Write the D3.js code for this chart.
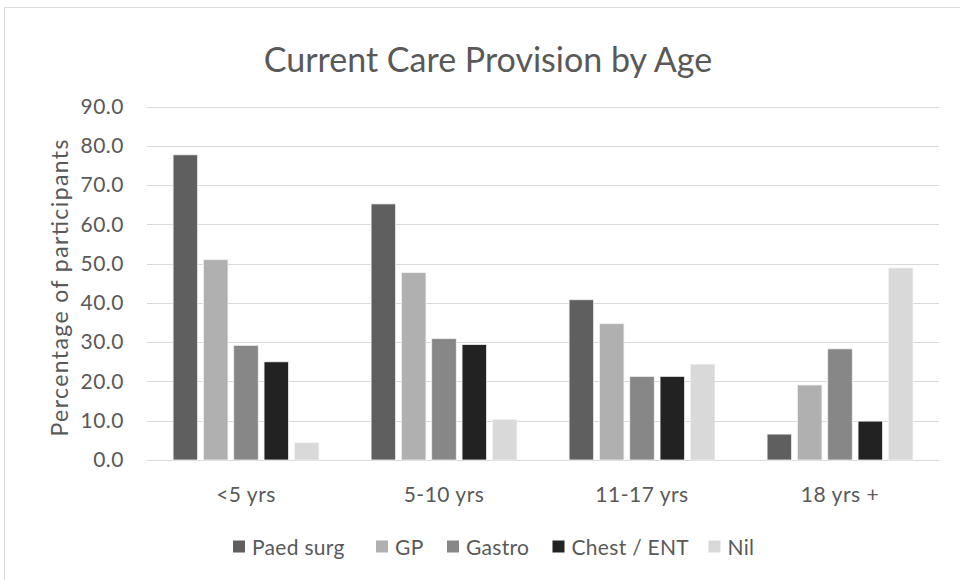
<!DOCTYPE html>
<html>
<head>
<meta charset="utf-8">
<script src="https://cdn.jsdelivr.net/npm/d3@7/dist/d3.min.js"></script>
<style>
  html, body { margin: 0; padding: 0; background: #fff; }
  svg { display: block; }
  text { font-family: Lato, "Open Sans", sans-serif; fill: #595959; }
</style>
</head>
<body>
<svg id="chart" width="960" height="580"></svg>
<script>
const categories = ["<5 yrs", "5-10 yrs", "11-17 yrs", "18 yrs +"];
const seriesNames = ["Paed surg", "GP", "Gastro", "Chest / ENT", "Nil"];
const paedSurg = [77.7, 65.2, 40.8, 6.6];
const gp = [51.0, 47.7, 34.7, 19.1];
const gastro = [29.2, 30.9, 21.3, 28.3];
const chestEnt = [25.0, 29.4, 21.3, 9.9];
const nil = [4.4, 10.3, 24.4, 48.9];
const yTicks = [0, 10, 20, 30, 40, 50, 60, 70, 80, 90];
const colors = ["#5f5f5f", "#b0b0b0", "#878787", "#222222", "#d9d9d9"];

const seriesValues = [paedSurg, gp, gastro, chestEnt, nil];

const svg = d3.select("#chart");

// chart frame
svg.append("rect")
  .attr("x", 4.5).attr("y", 7.5)
  .attr("width", 980).attr("height", 600)
  .attr("fill", "none").attr("stroke", "#d9d9d9").attr("stroke-width", 1);

const plot = { left: 147, right: 939, top: 106.5, bottom: 460 };

const y = d3.scaleLinear().domain([0, 90]).range([plot.bottom, plot.top]);
const x0 = d3.scaleBand().domain(categories).range([plot.left, plot.right]).padding(0);
const x1 = d3.scaleBand().domain(seriesNames).range([0, x0.bandwidth()])
  .paddingInner(0.19).paddingOuter(0.86);

// gridlines
svg.append("g")
  .selectAll("line")
  .data(yTicks)
  .join("line")
  .attr("x1", plot.left).attr("x2", plot.right)
  .attr("y1", d => Math.round(y(d)) + 0.5).attr("y2", d => Math.round(y(d)) + 0.5)
  .attr("stroke", "#d9d9d9").attr("stroke-width", 1.2);

// y axis labels
const yAxis = d3.axisLeft(y).tickValues(yTicks).tickFormat(d3.format(".1f")).tickSize(0).tickPadding(0);
const yg = svg.append("g").attr("transform", `translate(124,0)`).call(yAxis);
yg.select(".domain").remove();
yg.selectAll("text").style("font-family", "Lato, sans-serif").style("font-size", "21px")
  .style("letter-spacing", "0.5px").attr("fill", "#595959");

// x axis labels
const xAxis = d3.axisBottom(x0).tickSize(0).tickPadding(0);
const xg = svg.append("g").attr("transform", `translate(0,${plot.bottom + 27})`).call(xAxis);
xg.select(".domain").remove();
xg.selectAll("text").style("font-family", "Lato, sans-serif").style("font-size", "21px")
  .style("letter-spacing", "0.5px").attr("fill", "#595959");

// bars
const data = categories.map((c, i) => ({ cat: c, vals: seriesNames.map((s, j) => ({ s, j, v: seriesValues[j][i] })) }));
svg.append("g")
  .selectAll("g")
  .data(data)
  .join("g")
  .attr("transform", d => `translate(${x0(d.cat)},0)`)
  .selectAll("rect")
  .data(d => d.vals)
  .join("rect")
  .attr("x", d => x1(d.s))
  .attr("width", x1.bandwidth())
  .attr("y", d => y(d.v))
  .attr("height", d => y(0) - y(d.v))
  .attr("fill", d => colors[d.j])
  .attr("stroke", "#f2f2f2").attr("stroke-width", 0.8);

// title
svg.append("text")
  .attr("x", 488).attr("y", 72)
  .attr("text-anchor", "middle")
  .style("font-size", "34px")
  .text("Current Care Provision by Age");

// y axis title
svg.append("text")
  .attr("transform", "translate(68,288) rotate(-90)")
  .attr("text-anchor", "middle")
  .style("font-size", "23px")
  .attr("textLength", 297)
  .text("Percentage of participants");

// legend
const legendX = [233, 376, 447, 552.5, 708.5];
const lg = svg.append("g");
seriesNames.forEach((s, i) => {
  lg.append("rect").attr("x", legendX[i]).attr("y", 540.5).attr("width", 12).attr("height", 12).attr("fill", colors[i]);
  lg.append("text").attr("x", legendX[i] + 19).attr("y", 555).style("font-size", "21px")
    .style("letter-spacing", "0.3px").text(s);
});
</script>
</body>
</html>
